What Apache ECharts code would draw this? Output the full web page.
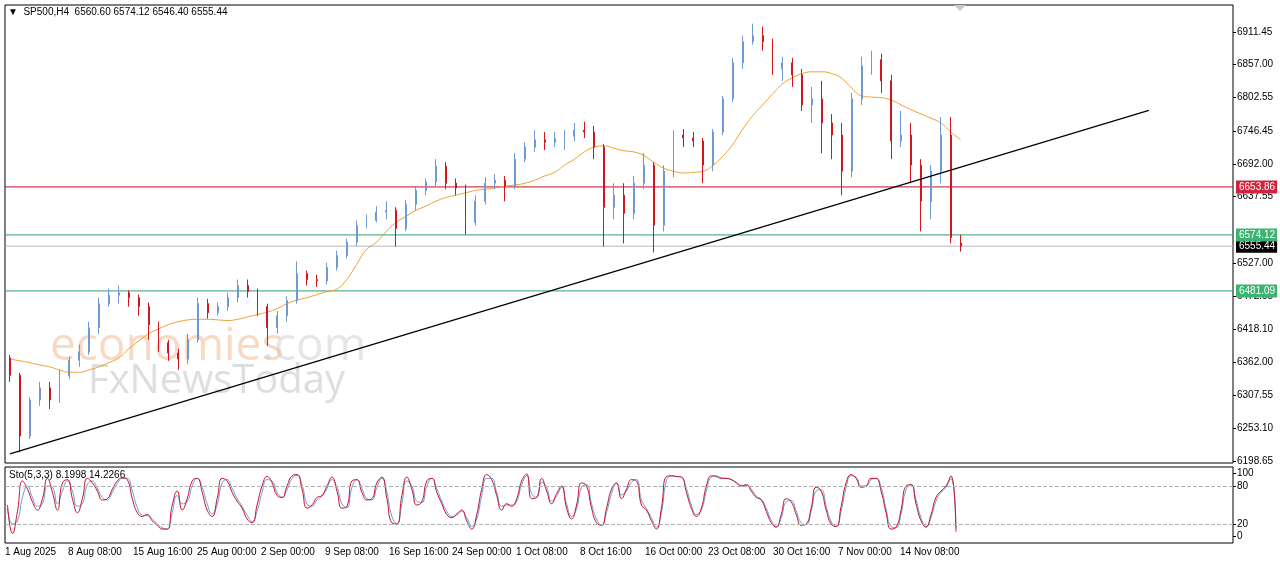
<!DOCTYPE html>
<html>
<head>
<meta charset="UTF-8">
<title>SP500 H4</title>
<style>
    body{ margin:0; padding:0; background:#fff; }
    .main{ width:1280px; height:567px; }
</style>
</head>
<body>
<div class="main"></div>
<script src="https://cdn.jsdelivr.net/npm/echarts@6/dist/echarts.min.js"></script>
<script>
// OHLC bars
var opens  = [6370,6341,6240,6300,6320,6300,6340,6366,6380,6420,6460,6474,6478,6470,6455,6425,6395,6378,6368,6400,6460,6445,6455,6470,6490,6480,6455,6420,6440,6465,6510,6500,6498,6520,6540,6562,6590,6598,6612,6615,6585,6625,6648,6662,6688,6660,6652,6595,6630,6660,6665,6655,6700,6720,6732,6728,6734,6738,6748,6745,6720,6620,6640,6610,6660,6690,6590,6680,6740,6735,6730,6690,6745,6800,6860,6895,6905,6895,6850,6860,6840,6790,6800,6760,6740,6680,6800,6855,6865,6830,6730,6740,6690,6630,6680,6740,6560.60];
var closes = [6341,6240,6300,6320,6300,6340,6366,6380,6420,6460,6474,6478,6470,6455,6425,6395,6378,6368,6400,6460,6445,6455,6470,6490,6480,6455,6420,6440,6465,6510,6500,6498,6520,6540,6562,6590,6598,6612,6615,6585,6625,6648,6662,6688,6660,6652,6595,6630,6660,6665,6655,6700,6720,6732,6728,6734,6738,6748,6745,6720,6620,6640,6610,6660,6690,6590,6680,6740,6735,6730,6690,6745,6800,6860,6895,6905,6895,6850,6860,6840,6790,6800,6760,6740,6680,6800,6855,6865,6830,6730,6740,6690,6630,6680,6740,6570,6555.44];
var lows   = [6330,6213,6235,6290,6285,6295,6335,6355,6375,6410,6455,6460,6455,6440,6400,6380,6365,6350,6360,6395,6435,6440,6448,6462,6470,6440,6390,6410,6430,6460,6490,6488,6492,6515,6535,6555,6585,6595,6600,6555,6580,6615,6640,6655,6650,6640,6575,6590,6625,6650,6630,6650,6695,6712,6715,6720,6715,6730,6735,6700,6555,6600,6560,6600,6650,6545,6580,6670,6720,6720,6660,6680,6740,6795,6850,6890,6880,6840,6830,6820,6780,6760,6710,6700,6640,6670,6790,6840,6810,6700,6720,6660,6580,6600,6660,6560,6546.40];
var highs  = [6375,6345,6305,6330,6330,6350,6372,6392,6430,6470,6485,6490,6482,6475,6462,6430,6400,6385,6410,6470,6468,6462,6478,6500,6500,6485,6460,6448,6472,6530,6515,6508,6528,6548,6568,6598,6608,6622,6630,6620,6632,6655,6668,6700,6695,6668,6658,6640,6670,6675,6672,6710,6728,6748,6745,6745,6748,6760,6762,6755,6725,6660,6660,6672,6710,6695,6690,6748,6750,6745,6735,6750,6805,6868,6905,6925,6920,6900,6870,6868,6850,6820,6830,6775,6760,6810,6870,6880,6875,6840,6780,6760,6700,6690,6770,6770,6574.12];
var maValues = [6368,6365,6362,6358,6355,6350,6346,6346,6350,6355,6362,6370,6385,6398,6410,6418,6425,6430,6433,6434,6434,6433,6432,6434,6438,6442,6446,6452,6460,6466,6470,6475,6480,6484,6500,6525,6550,6562,6580,6595,6605,6615,6622,6630,6636,6640,6644,6648,6650,6652,6655,6657,6660,6665,6672,6678,6690,6700,6712,6720,6722,6718,6714,6712,6706,6695,6685,6680,6677,6678,6680,6690,6705,6725,6750,6772,6790,6808,6825,6835,6842,6845,6845,6842,6834,6818,6805,6803,6802,6798,6790,6782,6775,6768,6760,6745,6732];

// Stochastic (5,3,3), two points per bar
var stochMain = [50,5,40,88,75,55,42,60,92,70,42,85,90,60,38,60,92,85,72,58,60,75,88,93,90,60,38,32,35,25,18,12,12,50,72,42,60,88,92,70,42,32,60,92,88,70,56,45,28,22,50,80,95,85,65,62,80,96,98,75,45,50,62,65,80,94,72,45,48,88,90,70,58,60,85,94,60,22,20,65,94,75,50,55,88,92,70,52,35,30,36,42,25,12,35,75,98,90,65,42,52,48,60,88,99,60,62,92,72,52,68,80,45,28,50,85,80,45,22,18,45,75,85,60,75,90,88,50,42,25,12,45,95,96,95,94,70,45,32,45,80,96,95,92,92,90,85,80,82,72,62,58,40,22,15,35,60,55,35,18,20,45,78,72,42,20,16,48,85,98,92,78,80,92,92,72,38,12,15,42,80,82,52,25,15,35,62,72,80,96,8];
var stochSignal = [45,20,25,62,80,62,48,52,80,78,52,72,88,72,48,52,82,88,76,62,58,70,84,92,92,72,46,34,33,28,20,14,12,38,65,52,55,80,92,78,52,36,50,85,90,76,60,48,34,24,40,70,90,88,70,62,74,92,97,82,52,48,58,64,76,90,78,52,46,78,90,76,60,58,78,92,70,32,20,52,88,80,56,54,80,92,76,56,40,32,34,40,30,16,28,65,92,92,70,48,50,50,56,82,96,68,62,86,78,56,64,78,52,32,44,78,82,52,28,18,38,68,84,66,72,86,90,58,44,30,15,38,88,96,95,94,76,50,35,42,72,94,96,93,92,90,86,81,81,75,64,59,45,26,16,30,55,57,40,22,19,40,72,74,48,24,16,40,78,96,94,80,80,90,92,78,44,16,14,36,74,82,58,30,16,30,56,70,78,92,14];

var priceTicks = [6911.45,6857.00,6802.55,6746.45,6692.00,6637.55,6527.00,6472.55,6418.10,6362.00,6307.55,6253.10,6198.65];
var dateLabels = ['1 Aug 2025','8 Aug 08:00','15 Aug 16:00','25 Aug 00:00','2 Sep 00:00','9 Sep 08:00','16 Sep 16:00','24 Sep 00:00','1 Oct 08:00','8 Oct 16:00','16 Oct 00:00','23 Oct 08:00','30 Oct 16:00','7 Nov 00:00','14 Nov 08:00'];
var dateX = [5,68,133,197,261,325,389,452,516,580,645,708,773,838,900];

var resistance = 6653.86, support1 = 6574.12, support2 = 6481.09, bid = 6555.44;

var nCats = 124;
var barCats = [];
for (var i = 0; i < nCats; i++) barCats.push(i);
var stochCats = [];
for (var j = 0; j < 246; j++) stochCats.push(j);

var candles = opens.map(function (o, k) { return [o, closes[k], lows[k], highs[k]]; });

var font = 'Liberation Sans';
var myChart = echarts.init(document.querySelector('.main'));

var graphics = [
    { type:'text', left:50, top:324, style:{ text:'economies', fill:'rgba(245,170,120,0.45)', font:'46px "Open Sans"' } },
    { type:'text', left:262, top:324, style:{ text:'.com', fill:'rgba(200,200,200,0.45)', font:'46px "Open Sans"' } },
    { type:'text', left:88, top:362, style:{ text:'FxNewsToday', fill:'rgba(190,190,190,0.5)', font:'40px "Open Sans"' } },
    { type:'text', left:8, top:7, style:{ text:'\u25BC  SP500,H4  6560.60 6574.12 6546.40 6555.44', fill:'#000', font:'10px ' + font } },
    { type:'text', left:9, top:470, style:{ text:'Sto(5,3,3) 8.1998 14.2266', fill:'#000', font:'10px ' + font } },
    { type:'polygon', shape:{ points:[[954,5],[966,5],[960,11]] }, style:{ fill:'#c8c8c8' } }
];
dateLabels.forEach(function (d, k) {
    graphics.push({ type:'text', left:dateX[k], top:547, style:{ text:d, fill:'#000', font:'10px ' + font } });
});

// horizontal level: a two-point line across the whole pane (hidden 0..1 x axis), price tag at the right edge
function levelSeries(v, color, bg) {
    return { type:'line', xAxisIndex:2, yAxisIndex:0, silent:true, showSymbol:false, z:1,
        data:[[0, v], [1, v]],
        lineStyle:{ color: color, width: 1 },
        endLabel:{ show:true, formatter: v.toFixed(2), color:'#fff', backgroundColor: bg,
            padding:[2,2,1,3], distance: 3, fontSize: 10, fontFamily: font } };
}

var option = {
    animation: false,
    backgroundColor: '#fff',
    graphic: graphics,
    grid: [
        { left:5, right:47, top:5, height:458, show:true, borderColor:'#000', borderWidth:1 },
        { left:5, right:47, top:467, height:76, show:true, borderColor:'#000', borderWidth:1 }
    ],
    xAxis: [
        { type:'category', gridIndex:0, data:barCats, boundaryGap:true, axisLine:{show:false}, axisTick:{show:false}, axisLabel:{show:false} },
        { type:'category', gridIndex:1, data:stochCats, boundaryGap:true, axisLine:{show:false}, axisTick:{show:false}, axisLabel:{show:false} },
        { type:'value', gridIndex:0, min:0, max:1, show:false, axisLine:{ onZero:false } }
    ],
    yAxis: [
        { type:'value', gridIndex:0, position:'right', min:6195.3, max:6956, splitLine:{show:false},
          axisLine:{show:false, onZero:false},
          axisTick:{ show:true, customValues: priceTicks, length:3, lineStyle:{color:'#000'} },
          axisLabel:{ customValues: priceTicks, color:'#000', fontSize:10, fontFamily:font, margin:4,
                      formatter:function(v){ return v.toFixed(2); } } },
        { type:'value', gridIndex:1, position:'right', min:-10, max:110, splitLine:{show:false},
          axisLine:{show:false, onZero:false},
          axisTick:{ show:true, customValues:[0,20,80,100], length:3, lineStyle:{color:'#000'} },
          axisLabel:{ customValues:[0,20,80,100], color:'#000', fontSize:10, fontFamily:font, margin:4 } }
    ],
    series: [
        levelSeries(bid, '#b8b8b8', '#000'),
        levelSeries(resistance, '#b8102a', '#d0243c'),
        levelSeries(support1, '#2e9e78', '#3cb371'),
        levelSeries(support2, '#2e9e78', '#3cb371'),
        { type:'candlestick', xAxisIndex:0, yAxisIndex:0, data:candles, barWidth:1.4, z:3,
          itemStyle:{ color:'#6d9bd1', color0:'#d0161e', borderColor:'#6d9bd1', borderColor0:'#d0161e', borderWidth:1 },
          markLine:{ symbol:'none', silent:true, animation:false, label:{show:false},
            lineStyle:{ color:'#000', width:1.2, type:'solid' },
            data:[ [ { coord:[0, 6210.5] }, { coord:[115, 6781] } ] ] } },
        { type:'line', xAxisIndex:0, yAxisIndex:0, data:maValues, showSymbol:false, smooth:true, z:3,
          lineStyle:{ color:'#f0a030', width:1 } },
        { type:'line', xAxisIndex:1, yAxisIndex:1, data:stochSignal, showSymbol:false, smooth:true,
          lineStyle:{ color:'#6d9bd1', width:1 } },
        { type:'line', xAxisIndex:1, yAxisIndex:1, data:stochMain, showSymbol:false, smooth:true,
          lineStyle:{ color:'#c8102e', width:1 },
          markLine:{ symbol:'none', silent:true, label:{show:false},
            lineStyle:{ color:'#b0b0b0', type:'dashed', width:1 },
            data:[ { yAxis:20 }, { yAxis:80 } ] } }
    ]
};
myChart.setOption(option);
</script>
</body>
</html>
